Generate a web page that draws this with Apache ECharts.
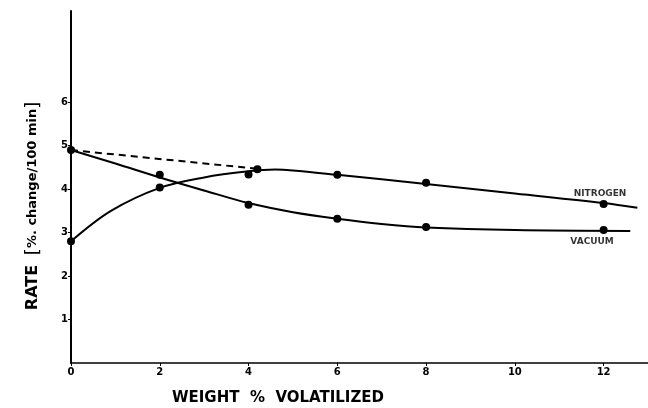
<!DOCTYPE html>
<html>
<head>
<meta charset="utf-8">
<script src="https://cdn.jsdelivr.net/npm/echarts@6/dist/echarts.min.js"></script>
<style>
  html, body { margin: 0; padding: 0; background: #fff; }
  #chart { width: 648px; height: 408px; }
</style>
</head>
<body>
<div id="chart"></div>
<script>
const myChart = echarts.init(document.getElementById('chart'));

// tick labels shown on the axes
var xTicks = [0, 2, 4, 6, 8, 10, 12];
var yTicks = [1, 2, 3, 4, 5, 6];

// fitted curves
var vacuumCurve = [[0, 4.9], [1, 4.59], [2, 4.27], [3, 3.97], [4, 3.68], [5, 3.47], [6, 3.32], [7, 3.2], [8, 3.12], [10, 3.06], [12.6, 3.04]];
var nitrogenCurve = [[0, 2.8], [0.9, 3.5], [2, 4.03], [3, 4.27], [4, 4.41], [4.6, 4.45], [5, 4.43], [6, 4.33], [8, 4.12], [10, 3.9], [12, 3.68], [12.76, 3.57]];
var nitrogenExtrap = [[0, 4.9], [4.2, 4.47]];

// measured points
var vacuumDots = [[0, 4.9], [2, 4.33], [4, 3.64], [6, 3.32], [8, 3.13], [12, 3.06]];
var nitrogenDots = [[0, 2.8], [2, 4.04], [4, 4.34], [4.2, 4.46], [6, 4.33], [8, 4.15], [12, 3.66]];

// curve names written beside the lines
var curveNames = ['NITROGEN', 'VACUUM'];
var namePos = [[11.92, 3.9], [11.74, 2.8]];

const option = {
    animation: false,
    grid: { left: 71, right: 0, top: 11, bottom: 45 },
    xAxis: {
        type: 'value',
        min: 0,
        max: 13,
        splitLine: { show: false },
        axisLine: { lineStyle: { color: '#000', width: 1.5 } },
        axisTick: { length: 3, customValues: xTicks, lineStyle: { color: '#000' } },
        axisLabel: {
            customValues: xTicks,
            color: '#000',
            fontFamily: 'DejaVu Sans',
            fontWeight: 'bold',
            fontSize: 10,
            margin: 4
        }
    },
    yAxis: {
        type: 'value',
        min: 0,
        max: 8.1,
        splitLine: { show: false },
        axisLine: { lineStyle: { color: '#000', width: 2 } },
        axisTick: { length: 3, customValues: yTicks, lineStyle: { color: '#000' } },
        axisLabel: {
            customValues: yTicks,
            color: '#000',
            fontFamily: 'DejaVu Sans',
            fontWeight: 'bold',
            fontSize: 10,
            margin: 3
        }
    },
    graphic: [
        {
            type: 'text',
            x: 33, y: 206,
            rotation: Math.PI / 2,
            style: {
                text: '{a|RATE}  {b|[}{c|%. change/100 min}{b|]}',
                rich: {
                    a: { font: 'bold 16px "DejaVu Sans"', fill: '#000' },
                    b: { font: '18px "DejaVu Sans"', fill: '#000' },
                    c: { font: 'bold 13px "DejaVu Sans"', fill: '#000' }
                },
                font: 'bold 14px "DejaVu Sans"',
                fill: '#000',
                align: 'center',
                verticalAlign: 'middle'
            }
        },
        {
            type: 'text',
            x: 278, y: 398,
            style: {
                text: 'WEIGHT  %  VOLATILIZED',
                font: 'bold 15px "DejaVu Sans"',
                fill: '#000',
                align: 'center',
                verticalAlign: 'middle'
            }
        }
    ],
    series: [
        {
            name: 'vacuum',
            type: 'line',
            data: vacuumCurve,
            smooth: 0.35,
            symbol: 'none',
            lineStyle: { color: '#000', width: 2 }
        },
        {
            name: 'nitrogen',
            type: 'line',
            data: nitrogenCurve,
            smooth: 0.35,
            symbol: 'none',
            lineStyle: { color: '#000', width: 2 }
        },
        {
            name: 'nitrogen extrapolated',
            type: 'line',
            data: nitrogenExtrap,
            symbol: 'none',
            lineStyle: { color: '#000', width: 2, type: [7, 5] }
        },
        {
            name: 'points',
            type: 'scatter',
            data: vacuumDots.concat(nitrogenDots),
            symbolSize: 8,
            itemStyle: { color: '#000', opacity: 1 }
        },
        {
            name: 'names',
            type: 'scatter',
            symbolSize: 0,
            data: namePos.map(function (p, i) {
                return { value: p, label: { formatter: curveNames[i] } };
            }),
            label: {
                show: true,
                position: 'inside',
                color: '#000',
                fontFamily: 'DejaVu Sans',
                fontWeight: 'bold',
                fontSize: 9
            }
        }
    ]
};
myChart.setOption(option);
</script>
</body>
</html>
